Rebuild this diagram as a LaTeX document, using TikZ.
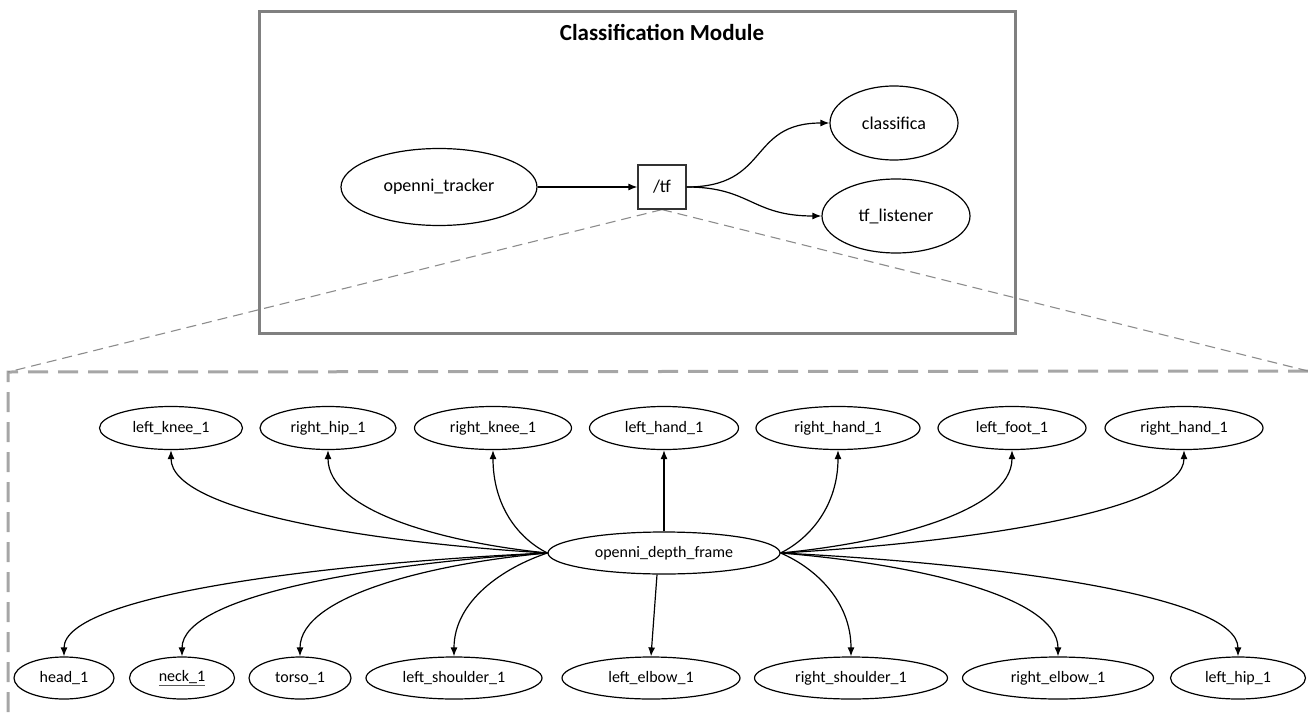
\documentclass[tikz,border=0pt]{standalone}
\usepackage{fontspec}
\setmainfont{Carlito}
\usetikzlibrary{shapes.geometric,arrows.meta}
\definecolor{boxgray}{HTML}{808080}
\definecolor{zoomgray}{HTML}{A6A6A6}
\definecolor{guidegray}{HTML}{8C8C8C}
\tikzset{
  oval/.style={ellipse,draw=black,line width=1.2pt,inner sep=0pt,fill=white},
  big/.style={font=\fontsize{18}{20}\selectfont},
  small/.style={font=\fontsize{16}{18}\selectfont},
  topic/.style={rectangle,draw=black!80,line width=1.2pt,inner sep=0pt,fill=white,
    minimum width=48pt,minimum height=44pt,font=\fontsize{18}{20}\selectfont},
  edge/.style={line width=1.2pt,-{Latex[length=9pt,width=7pt]}},
  guide/.style={guidegray,line width=1.1pt,dash pattern=on 10pt off 6pt},
  zoomframe/.style={zoomgray,line width=3pt,dash pattern=on 20pt off 10pt}
}
\begin{document}
\begin{tikzpicture}[x=1pt,y=-1pt]
\useasboundingbox (0,0) rectangle (1308,714);

% module frame
\draw[boxgray,line width=3pt] (259,12) rectangle (1015,333);
\node[font=\bfseries\fontsize{23}{26}\selectfont] (title) at (662,33) {Classification Module};

% zoomed view frame
\coordinate (zl) at (8,372);
\coordinate (zr) at (1308,371);
\coordinate (zb) at (8,714);
\draw[zoomframe] (zr) -- (zl) -- (zb);

% module graph
\node[oval,big,minimum width=196pt,minimum height=77pt] (ot) at (439,187) {openni\_tracker};
\node[topic] (tf) at (662,187) {/tf};
\node[oval,big,minimum width=128pt,minimum height=74pt] (cl) at (894,123) {classifica};
\node[oval,big,minimum width=148pt,minimum height=74pt] (tl) at (896,216) {tf\_listener};

\draw[guide] (tf.south) -- (zl);
\draw[guide] (tf.south) -- (zr);
\node[topic] at (tf) {/tf};

\draw[edge] (ot.east) -- (tf.west);
\draw[edge] (tf.east) .. controls +(84,0) and +(-82,0) .. (cl.west);
\draw[edge] (tf.east) .. controls +(64,0) and +(-70,0) .. (tl.west);

% frame tree
\node[oval,small,minimum width=232pt,minimum height=42pt] (odf) at (664,553) {openni\_depth\_frame};

\node[oval,small,minimum width=143pt,minimum height=43pt] (lk) at (171,428) {left\_knee\_1};
\node[oval,small,minimum width=136pt,minimum height=43pt] (rhp) at (328,428) {right\_hip\_1};
\node[oval,small,minimum width=157pt,minimum height=43pt] (rk) at (493,428) {right\_knee\_1};
\node[oval,small,minimum width=149pt,minimum height=43pt] (lha) at (664,428) {left\_hand\_1};
\node[oval,small,minimum width=164pt,minimum height=43pt] (rha) at (838,428) {right\_hand\_1};
\node[oval,small,minimum width=148pt,minimum height=43pt] (lf) at (1012,428) {left\_foot\_1};
\node[oval,small,minimum width=158pt,minimum height=43pt] (rhb) at (1184,428) {right\_hand\_1};

\node[oval,small,minimum width=100pt,minimum height=42pt] (hd) at (64,678) {head\_1};
\node[oval,small,minimum width=105pt,minimum height=42pt] (nk) at (182,678)
  {{\color{black!65}\underline{\color{black}neck\_1}}};
\node[oval,small,minimum width=102pt,minimum height=42pt] (ts) at (300,678) {torso\_1};
\node[oval,small,minimum width=176pt,minimum height=42pt] (lsh) at (454,678) {left\_shoulder\_1};
\node[oval,small,minimum width=178pt,minimum height=42pt] (lel) at (651,678) {left\_elbow\_1};
\node[oval,small,minimum width=193pt,minimum height=42pt] (rsh) at (851,678) {right\_shoulder\_1};
\node[oval,small,minimum width=191pt,minimum height=42pt] (rel) at (1058,678) {right\_elbow\_1};
\node[oval,small,minimum width=135pt,minimum height=42pt] (lhp) at (1238,678) {left\_hip\_1};

% upward links
\draw[edge] (odf.west) .. controls +(-170,-10) and +(0,62) .. (lk.south);
\draw[edge] (odf.west) .. controls +(-100,-10) and +(0,62) .. (rhp.south);
\draw[edge] (odf.west) .. controls +(-30,-15) and +(0,55) .. (rk.south);
\draw[edge] (odf.north) -- (lha.south);
\draw[edge] (odf.east) .. controls +(30,-15) and +(0,55) .. (rha.south);
\draw[edge] (odf.east) .. controls +(105,-10) and +(0,62) .. (lf.south);
\draw[edge] (odf.east) .. controls +(180,-10) and +(0,62) .. (rhb.south);

% downward links
\draw[edge] (odf.west) .. controls +(-218,10) and +(0,-62) .. (hd.north);
\draw[edge] (odf.west) .. controls +(-165,10) and +(0,-62) .. (nk.north);
\draw[edge] (odf.west) .. controls +(-110,10) and +(0,-62) .. (ts.north);
\draw[edge] (odf.west) .. controls +(-45,15) and +(0,-55) .. (lsh.north);
\draw[edge] ([xshift=-7pt]odf.south) -- (lel.north);
\draw[edge] (odf.east) .. controls +(35,15) and +(0,-55) .. (rsh.north);
\draw[edge] (odf.east) .. controls +(125,10) and +(0,-62) .. (rel.north);
\draw[edge] (odf.east) .. controls +(205,10) and +(0,-62) .. (lhp.north);
\end{tikzpicture}
\end{document}
